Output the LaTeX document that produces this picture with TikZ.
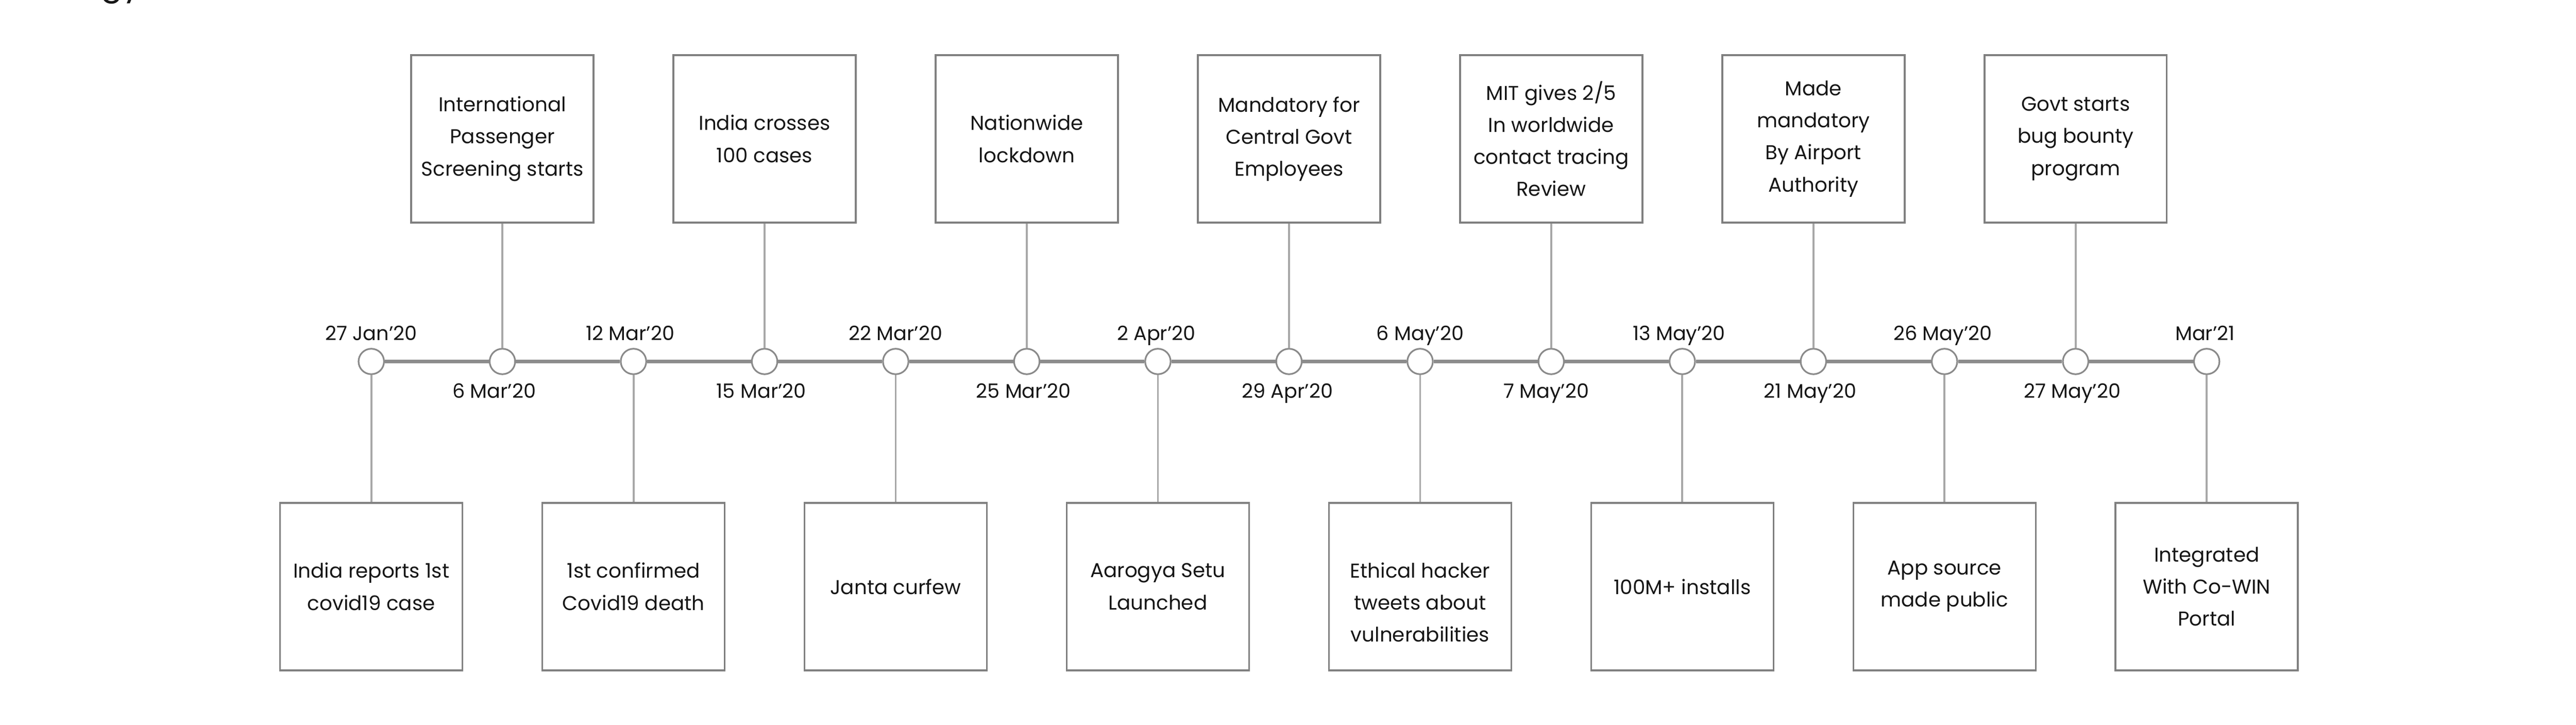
\documentclass[tikz,border=0pt]{standalone}
\usepackage{fontspec}
\setmainfont{Poppins}
\usetikzlibrary{calc}
\definecolor{boxgray}{HTML}{808080}
\definecolor{dotgray}{HTML}{8A8A8A}
\definecolor{linegray}{HTML}{8C8C8C}
\definecolor{conngray}{HTML}{A8A8A8}
\definecolor{txt}{HTML}{161616}
\begin{document}
\begin{tikzpicture}[x=1pt,y=1pt,
  evbox/.style={draw=boxgray, line width=1.1pt, minimum width=111pt, minimum height=102pt,
    inner sep=0pt, align=center, font=\fontsize{12.2}{19.5}\selectfont, text=txt},
  evtext/.style={inner sep=0pt, align=center, font=\fontsize{12.2}{19.5}\selectfont, text=txt},
  dot/.style={circle, draw=dotgray, line width=1pt, fill=white, minimum size=15.5pt, inner sep=0pt},
  datelbl/.style={font=\fontsize{12}{14}\selectfont, text=txt, inner sep=0pt, anchor=base},
  tl/.style={draw=linegray, line width=2pt},
  conn/.style={draw=conngray, line width=1.2pt}]
\useasboundingbox (0,0) rectangle (1568,441);
\node[anchor=base west, inner sep=0pt, font=\fontsize{20}{24}\selectfont, text=txt] (head) at (61,444) {gy};
% timeline dots
\foreach \i in {0,...,14} \node[dot] (c\i) at ({226+79.8*\i},221) {};
\foreach \i [count=\j from 1] in {0,...,13} \draw[tl] (c\i) -- (c\j);
% top boxes
\node[evbox] (t1)  at ($(c1)+(0,135.5)$)  {International\\Passenger\\Screening starts};
\node[evbox] (t3)  at ($(c3)+(0,135.5)$)  {India crosses\\100 cases};
\node[evbox] (t5)  at ($(c5)+(0,135.5)$)  {Nationwide\\lockdown};
\node[evbox] (t7)  at ($(c7)+(0,135.5)$)  {Mandatory for\\Central Govt\\Employees};
\node[evbox] (t9)  at ($(c9)+(0,135.5)$)  {MIT gives 2/5\\In worldwide\\contact tracing\\Review};
\node[evbox] (t11) at ($(c11)+(0,135.5)$) {Made\\mandatory\\By Airport\\Authority};
\node[evbox] (t13) at ($(c13)+(0,135.5)$) {Govt starts\\bug bounty\\program};
% bottom boxes
\node[evbox] (b0)  at ($(c0)+(0,-137)$)  {India reports 1st\\covid19 case};
\node[evbox] (b2)  at ($(c2)+(0,-137)$)  {1st confirmed\\Covid19 death};
\node[evbox] (b4)  at ($(c4)+(0,-137)$)  {Janta curfew};
\node[evbox] (b6)  at ($(c6)+(0,-137)$)  {Aarogya Setu\\Launched};
\node[evbox] (b8)  at ($(c8)+(0,-137)$)  {};
\node[evtext] (b8t) at ($(b8)+(0,-9.5)$) {Ethical hacker\\tweets about\\vulnerabilities};
\node[evbox] (b10) at ($(c10)+(0,-137)$) {100M+ installs};
\node[evbox] (b12) at ($(c12)+(0,-137)$) {App source\\made public};
\node[evbox] (b14) at ($(c14)+(0,-137)$) {Integrated\\With Co-WIN\\Portal};
% connectors
\foreach \i in {1,3,5,7,9,11,13} \draw[conn] (t\i) -- (c\i);
\foreach \i in {0,2,4,6,8,10,12,14} \draw[conn] (c\i) -- (b\i);
% dates above
\node[datelbl] (d0)  at ($(c0)+(0,12.8)$)  {27 Jan’20};
\node[datelbl] (d2)  at ($(c2)+(-2,12.8)$) {12 Mar’20};
\node[datelbl] (d4)  at ($(c4)+(0,12.8)$)  {22 Mar’20};
\node[datelbl] (d6)  at ($(c6)+(-1,12.8)$) {2 Apr’20};
\node[datelbl] (d8)  at ($(c8)+(0,12.8)$)  {6 May’20};
\node[datelbl] (d10) at ($(c10)+(-2,12.8)$) {13 May’20};
\node[datelbl] (d12) at ($(c12)+(-1,12.8)$) {26 May’20};
\node[datelbl] (d14) at ($(c14)+(-1,12.8)$) {Mar’21};
% dates below
\node[datelbl] (d1)  at ($(c1)+(-5,-22.2)$)  {6 Mar’20};
\node[datelbl] (d3)  at ($(c3)+(-2,-22.2)$)  {15 Mar’20};
\node[datelbl] (d5)  at ($(c5)+(-2,-22.2)$)  {25 Mar’20};
\node[datelbl] (d7)  at ($(c7)+(-1,-22.2)$)  {29 Apr’20};
\node[datelbl] (d9)  at ($(c9)+(-3,-22.2)$)  {7 May’20};
\node[datelbl] (d11) at ($(c11)+(-2,-22.2)$) {21 May’20};
\node[datelbl] (d13) at ($(c13)+(-2,-22.2)$) {27 May’20};
\end{tikzpicture}
\end{document}
